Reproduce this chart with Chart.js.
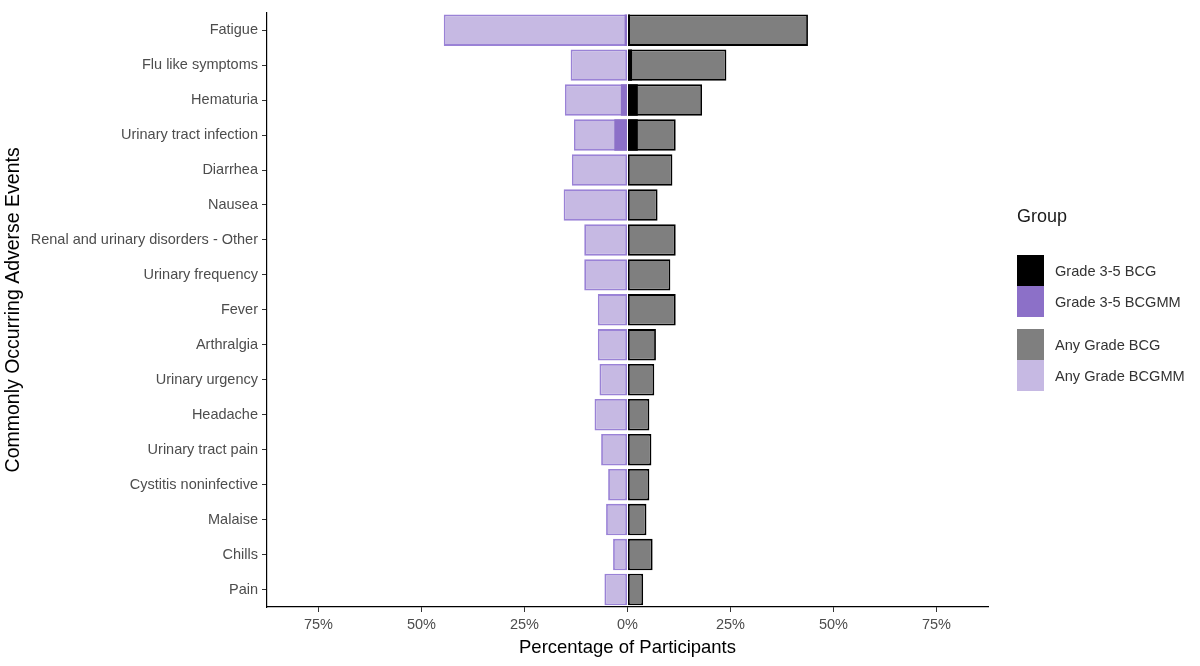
<!DOCTYPE html>
<html>
<head>
<meta charset="utf-8">
<script src="https://cdn.jsdelivr.net/npm/chart.js@4.4.0/dist/chart.umd.min.js"></script>
<style>
  body { margin: 0; background: #fff; font-family: 'Liberation Sans', Arial, sans-serif; }
  #wrap { position: relative; width: 1200px; height: 666px; }
  #legend { position: absolute; left: 1017px; top: 206px; }
  #legend .title { font-size: 18px; line-height: 21px; color: #1a1a1a; margin-bottom: 28px; }
  #legend .item { display: flex; align-items: center; height: 31px; }
  #legend .item.gap { margin-top: 12px; }
  #legend .key { width: 27px; height: 31px; margin-right: 11px; }
  #legend .txt { font-size: 14.6px; color: #333; }
</style>
</head>
<body>
<div id="wrap">
  <canvas id="chart" width="1200" height="666"></canvas>
  <div id="legend"></div>
</div>
<script>
// 有害事象カテゴリ（上から順）
const categories = [
  'Fatigue', 'Flu like symptoms', 'Hematuria', 'Urinary tract infection',
  'Diarrhea', 'Nausea', 'Renal and urinary disorders - Other', 'Urinary frequency',
  'Fever', 'Arthralgia', 'Urinary urgency', 'Headache', 'Urinary tract pain',
  'Cystitis noninfective', 'Malaise', 'Chills', 'Pain'
];

// 割合 (%) — BCGMM は左側に描く
const anyGradeBCG = [43.8, 24.0, 18.1, 11.7, 10.9, 7.3, 11.7, 10.4, 11.7, 6.9, 6.5, 5.3, 5.8, 5.3, 4.6, 6.1, 3.8];
const anyGradeBCGMM = [44.6, 13.8, 15.2, 13.0, 13.5, 15.5, 10.5, 10.5, 7.2, 7.2, 6.8, 8.0, 6.4, 4.7, 5.2, 3.5, 5.6];
const grade35BCG = [0.6, 1.1, 2.5, 2.5, 0, 0, 0, 0, 0, 0, 0, 0, 0, 0, 0, 0, 0];
const grade35BCGMM = [0.7, 0, 1.6, 3.2, 0, 0, 0, 0, 0, 0, 0, 0, 0, 0, 0, 0, 0];

const xTickValues = [-75, -50, -25, 0, 25, 50, 75];

// 先頭のデータセットが一番上に描かれる
const groups = [
  { label: 'Grade 3-5 BCG', values: grade35BCG, side: 1, fill: '#000000', border: '#000000', width: 0 },
  { label: 'Grade 3-5 BCGMM', values: grade35BCGMM, side: -1, fill: '#8c70c8', border: '#8c70c8', width: 0 },
  { label: 'Any Grade BCG', values: anyGradeBCG, side: 1, fill: '#7f7f7f', border: '#000000', width: 1.8 },
  { label: 'Any Grade BCGMM', values: anyGradeBCGMM, side: -1, fill: '#c6b9e3', border: '#9a82d6', width: 1.8 }
];

// 凡例（HTML）
const legendEl = document.getElementById('legend');
legendEl.innerHTML = '<div class="title">Group</div>' + groups.map((g, i) =>
  `<div class="item${i === 2 ? ' gap' : ''}"><div class="key" style="background:${g.fill}"></div><span class="txt">${g.label}</span></div>`
).join('');

const fontFamily = "'Liberation Sans', Arial, sans-serif";
const axisFont = { family: fontFamily, size: 14.5 };

new Chart(document.getElementById('chart').getContext('2d'), {
  type: 'bar',
  data: {
    labels: categories,
    datasets: groups.map((g) => ({
      label: g.label,
      data: g.values.map((v) => v * g.side),
      backgroundColor: g.fill,
      borderColor: g.border,
      borderWidth: g.width,
      borderSkipped: false,
      grouped: false,
      barPercentage: 0.9,
      categoryPercentage: 1
    }))
  },
  options: {
    indexAxis: 'y',
    responsive: false,
    animation: false,
    layout: { padding: { left: 0, right: 212, top: 11, bottom: 0 } },
    plugins: { legend: { display: false }, tooltip: { enabled: false } },
    scales: {
      x: {
        type: 'linear',
        min: -87.5,
        max: 87.5,
        afterBuildTicks: (s) => { s.ticks = xTickValues.map((v) => ({ value: v })); },
        afterFit: (s) => { s.height = 666 - 607; },
        ticks: { callback: (v) => Math.abs(v) + '%', color: '#4d4d4d', font: axisFont, padding: 4, maxRotation: 0 },
        grid: { drawOnChartArea: false, tickLength: 5, color: '#333' },
        border: { color: '#000', width: 1.2 },
        title: { display: true, text: 'Percentage of Participants', color: '#000', font: { family: fontFamily, size: 18.5 }, padding: { top: 0, bottom: 7 } }
      },
      y: {
        afterFit: (s) => { s.width = 267; },
        ticks: { color: '#4d4d4d', font: axisFont, padding: 4 },
        grid: { drawOnChartArea: false, tickLength: 5, color: '#333', offset: false },
        border: { color: '#000', width: 1.2 },
        title: { display: true, text: 'Commonly Occurring Adverse Events', color: '#000', font: { family: fontFamily, size: 19.5 }, padding: { top: 2, bottom: 0 } }
      }
    }
  }
});
</script>
</body>
</html>
